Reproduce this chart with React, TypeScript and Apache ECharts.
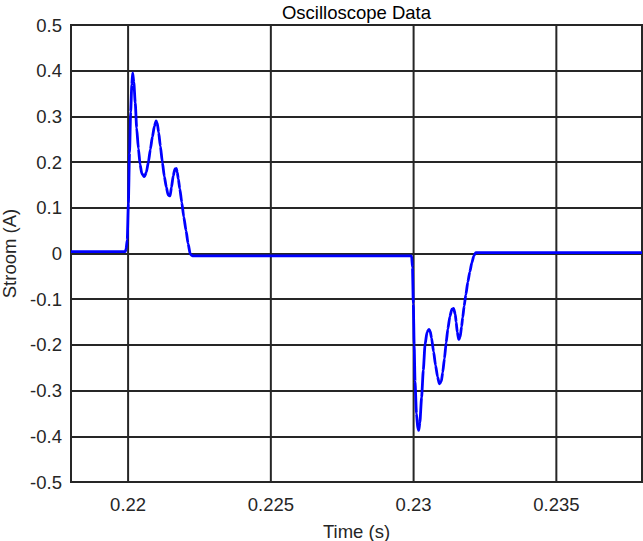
import React, { useEffect, useRef } from "react";
import * as echarts from "echarts";

const timeS: number[] = [
  0.218, 0.2199, 0.21993, 0.21997, 0.22001, 0.22005, 0.22009, 0.22013, 0.22016,
  0.2202, 0.22025, 0.2203, 0.22036, 0.22042, 0.22048, 0.22057, 0.22064, 0.22071,
  0.22078, 0.22085, 0.22092, 0.22098, 0.22102, 0.22107, 0.22113, 0.2212, 0.22127,
  0.22134, 0.2214, 0.22147, 0.22152, 0.22158, 0.22164, 0.22169, 0.22172, 0.22176,
  0.22181, 0.22188, 0.22195, 0.22203, 0.2221, 0.22218, 0.22226, 0.22993, 0.22996,
  0.22999, 0.23002, 0.23005, 0.2301, 0.23015, 0.23018, 0.23022, 0.23028, 0.23034,
  0.2304, 0.23047, 0.23054, 0.23058, 0.23063, 0.2307, 0.23077, 0.23084, 0.2309,
  0.23097, 0.23102, 0.23108, 0.23114, 0.2312, 0.23127, 0.23134, 0.2314, 0.23146,
  0.23149, 0.23153, 0.23158, 0.23163, 0.23168, 0.23172, 0.23177, 0.23183, 0.2319,
  0.23197, 0.23204, 0.23211, 0.23218, 0.23225, 0.238,
];

const currentA: number[] = [
  0.004, 0.004, 0.01, 0.03, 0.11, 0.22, 0.31, 0.37, 0.395,
  0.375, 0.33, 0.275, 0.23, 0.195, 0.175, 0.168, 0.178, 0.2,
  0.228, 0.255, 0.278, 0.29, 0.286, 0.265, 0.235, 0.2, 0.168,
  0.145, 0.128, 0.126, 0.145, 0.17, 0.185, 0.186, 0.178, 0.163,
  0.142, 0.112, 0.08, 0.05, 0.022, -0.002, -0.005, -0.005, -0.03,
  -0.11, -0.2, -0.28, -0.35, -0.385, -0.387, -0.37, -0.315, -0.255,
  -0.2, -0.172, -0.166, -0.17, -0.185, -0.215, -0.245, -0.27, -0.285,
  -0.28, -0.26, -0.23, -0.195, -0.165, -0.138, -0.122, -0.12, -0.133,
  -0.15, -0.172, -0.188, -0.183, -0.16, -0.14, -0.115, -0.09, -0.062,
  -0.04, -0.02, -0.005, 0.002, 0.002, 0.002,
];

const xGridValues: number[] = [0.22, 0.225, 0.23, 0.235];

const FONT = "'Liberation Sans', Arial, Helvetica, sans-serif";
const AXIS_COLOR = "#262626";
const FS = 18.5;

export default function App() {
  const ref = useRef<HTMLDivElement>(null);

  useEffect(() => {
    document.body.style.margin = "0";
    if (!ref.current) return;
    const chart = echarts.init(ref.current, null, { renderer: "svg" });
    const data = timeS.map((t, i) => [t, currentA[i]]);
    chart.setOption({
      animation: false,
      backgroundColor: "#ffffff",
      graphic: [
        {
          type: "text",
          x: 356.5,
          y: 12.5,
          silent: true,
          style: {
            text: "Oscilloscope Data",
            fontFamily: FONT,
            fontSize: FS,
            fill: "#000000",
            align: "center",
            verticalAlign: "middle",
          },
        },
      ],
      grid: {
        left: 71,
        right: 1,
        top: 25,
        bottom: 59,
        show: true,
        borderColor: AXIS_COLOR,
        borderWidth: 2,
        containLabel: false,
        outerBoundsMode: "none",
      },
      xAxis: {
        type: "value",
        min: 0.218,
        max: 0.238,
        interval: 0.001,
        name: "Time (s)",
        nameLocation: "middle",
        nameGap: 40,
        nameTextStyle: { fontFamily: FONT, fontSize: FS, color: AXIS_COLOR },
        axisLine: { show: true, lineStyle: { color: AXIS_COLOR, width: 2 } },
        axisTick: { show: false },
        splitLine: { show: false },
        axisLabel: {
          interval: 0,
          margin: 13,
          fontFamily: FONT,
          fontSize: FS,
          color: AXIS_COLOR,
          formatter: (v: number) => {
            const k = v * 200;
            if (Math.abs(k - Math.round(k)) < 1e-6) {
              return String(Number((Math.round(k) / 200).toFixed(3)));
            }
            return "";
          },
        },
      },
      yAxis: {
        type: "value",
        min: -0.5,
        max: 0.5,
        interval: 0.1,
        name: "Stroom (A)",
        nameLocation: "middle",
        nameGap: 46,
        nameTextStyle: { fontFamily: FONT, fontSize: FS, color: AXIS_COLOR },
        axisLine: { show: true, lineStyle: { color: AXIS_COLOR, width: 2 } },
        axisTick: { show: false },
        splitLine: { show: true, lineStyle: { color: AXIS_COLOR, width: 2 } },
        axisLabel: {
          margin: 9,
          fontFamily: FONT,
          fontSize: FS,
          color: AXIS_COLOR,
          formatter: (v: number) => String(Number(v.toFixed(1))),
        },
      },
      series: [
        {
          type: "custom",
          z: 1,
          silent: true,
          data: xGridValues.map((x) => [x]),
          encode: { x: 0 },
          renderItem: (params: any, api: any) => {
            const x = api.value(0);
            const p1 = api.coord([x, 0.5]);
            const p2 = api.coord([x, -0.5]);
            return {
              type: "line",
              shape: { x1: p1[0], y1: p1[1], x2: p2[0], y2: p2[1] },
              style: { stroke: AXIS_COLOR, lineWidth: 2 },
            };
          },
        },
        {
          type: "line",
          data,
          z: 3,
          showSymbol: false,
          symbol: "none",
          smooth: 0.2,
          smoothMonotone: "x",
          lineStyle: { color: "#0000ff", width: 2.8 },
        },
      ],
    });
    return () => chart.dispose();
  }, []);

  return <div ref={ref} style={{ width: 643, height: 541 }} />;
}
